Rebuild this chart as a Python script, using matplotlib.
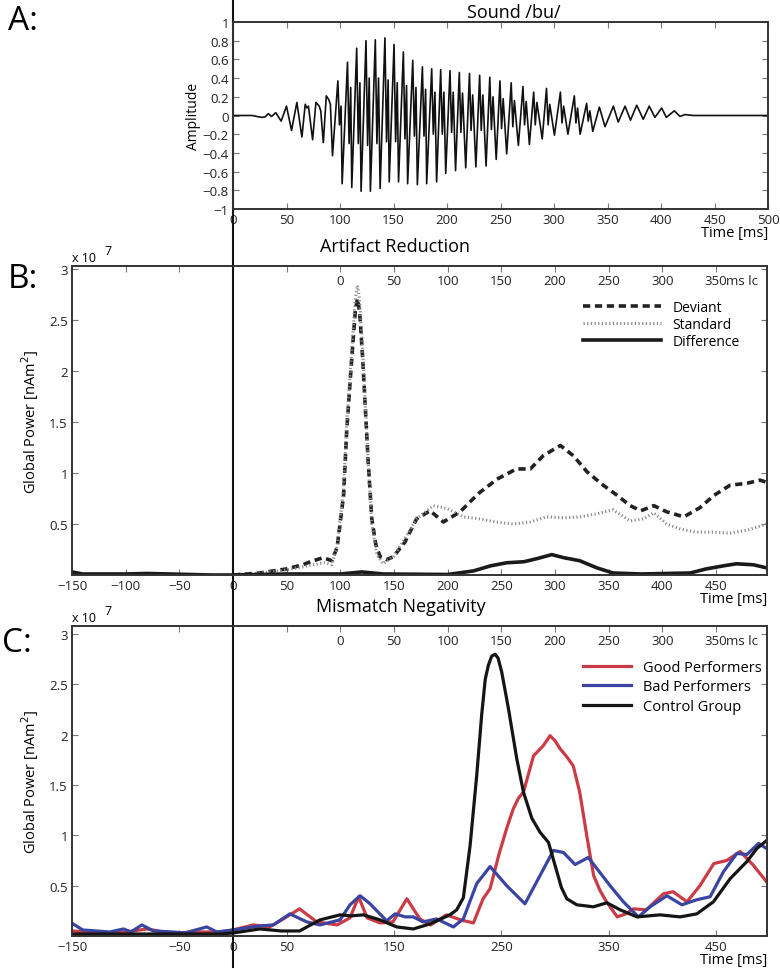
import matplotlib
matplotlib.use("Agg")
import matplotlib.pyplot as plt

plt.rcParams['font.family'] = ['Open Sans', 'DejaVu Sans']

# ---------------- Panel A: sound waveform /bu/ ----------------
early_t = [0, 18, 22, 27, 30, 33, 36, 40, 45, 50, 54.7, 59.7, 64.4, 67.5, 69, 70.5, 74.4,
           77.5, 80.6, 82, 84.4, 87.2, 89.5, 91]
early_a = [0, 0, -0.01, -0.02, -0.015, 0.02, -0.01, 0.03, -0.06, 0.10, -0.16, 0.14, -0.23,
           0.12, 0.08, 0.10, -0.26, 0.14, 0.10, 0.05, -0.29, 0.21, 0.17, 0.12]
trough_t = [93, 102, 111, 119.7, 128.4, 137.5, 146, 154.7, 163.2, 172.3, 181, 190.3, 198.8,
            208, 217.5, 227, 236.5, 246, 255.8, 266.7, 277, 289, 300.4, 313, 324.4]
trough_a = [-0.43, -0.73, -0.77, -0.81, -0.81, -0.78, -0.71, -0.71, -0.73, -0.74, -0.73, -0.71,
            -0.62, -0.59, -0.56, -0.55, -0.54, -0.47, -0.41, -0.32, -0.31, -0.25, -0.21, -0.20, -0.20]
peak_t = [98, 107, 115.6, 124.3, 133, 142, 150.5, 159.2, 168, 177, 185.7, 194.1, 202.8, 211.5,
          221, 230.5, 240, 249.5, 260, 271, 281, 293, 306, 319, 330.5]
peak_a = [0.37, 0.57, 0.72, 0.80, 0.81, 0.83, 0.76, 0.68, 0.59, 0.52, 0.50, 0.49, 0.48, 0.46,
          0.45, 0.43, 0.41, 0.37, 0.35, 0.31, 0.25, 0.29, 0.25, 0.21, 0.13]
knot_dip = [-0.10, -0.30, -0.30, -0.32, -0.30, -0.28, -0.28, -0.25, -0.22, -0.22, -0.20, -0.20,
            -0.18, -0.18, -0.16, -0.16, -0.15, -0.14, -0.12, -0.10, -0.10, -0.10, -0.08, -0.08, -0.06]
knot_bump = [0.10, 0.30, 0.35, 0.40, 0.40, 0.38, 0.35, 0.32, 0.30, 0.28, 0.25, 0.25, 0.25, 0.24,
             0.22, 0.22, 0.20, 0.18, 0.16, 0.15, 0.14, 0.12, 0.10, 0.08, 0.05]
knot_dip_dt = 1.5
knot_bump_dt = 3.0
tail_t = [336.2, 342.4, 347.7, 355.5, 360, 366.4, 371.5, 377.3, 383.4, 389, 394.3, 400.6, 405,
          412.4, 417.8, 422.4, 430, 500]
tail_a = [-0.17, 0.09, -0.12, 0.10, -0.07, 0.10, -0.05, 0.11, -0.04, 0.10, -0.02, 0.08, -0.02,
          0.05, -0.01, 0.01, 0.0, 0.0]

amp_ticks = [-1, -0.8, -0.6, -0.4, -0.2, 0, 0.2, 0.4, 0.6, 0.8, 1]
amp_labels = ['\u22121', '\u22120.8', '\u22120.6', '\u22120.4', '\u22120.2', '0', '0.2', '0.4', '0.6', '0.8', '1']
a_xticks = [0, 50, 100, 150, 200, 250, 300, 350, 400, 450, 500]

# ---------------- Panel B: artifact reduction (x 1e7) ----------------
dev_t = [0, 25, 50, 65, 72, 84, 92, 97, 103, 106, 110.6, 114, 116, 118, 121, 126, 129.3, 133,
         137, 143, 149.5, 160, 171, 183.6, 196, 211.6, 224, 230, 246, 264, 277, 289, 305, 317,
         330, 345, 358, 370, 380, 392, 404, 420, 435, 448, 463, 479, 491, 497]
dev_v = [0, 0.02, 0.06, 0.10, 0.13, 0.17, 0.14, 0.27, 0.78, 1.43, 2.12, 2.60, 2.71, 2.58, 2.09,
         1.10, 0.55, 0.30, 0.18, 0.15, 0.18, 0.32, 0.55, 0.63, 0.52, 0.62, 0.75, 0.81, 0.94,
         1.04, 1.04, 1.17, 1.27, 1.17, 1.01, 0.88, 0.78, 0.68, 0.63, 0.68, 0.62, 0.57, 0.66,
         0.78, 0.88, 0.90, 0.93, 0.91]
std_t = [0, 25, 50, 65, 75, 85, 92, 97, 103, 106, 110.6, 114, 116, 118, 121, 126, 129.3, 134,
         140, 149.5, 162, 171, 186.7, 200, 214.6, 230, 245, 261, 277, 292, 308, 323, 339, 354,
         370, 382, 392, 404, 417, 432, 448, 463, 479, 497]
std_v = [0, 0.02, 0.05, 0.08, 0.10, 0.12, 0.10, 0.28, 0.85, 1.50, 2.20, 2.72, 2.84, 2.70, 2.15,
         1.10, 0.50, 0.20, 0.11, 0.18, 0.39, 0.55, 0.68, 0.65, 0.57, 0.55, 0.52, 0.50, 0.52,
         0.57, 0.56, 0.57, 0.60, 0.64, 0.53, 0.55, 0.61, 0.50, 0.45, 0.42, 0.42, 0.41, 0.44, 0.50]
diff_t = [-150, -140, -120, -100, -80, -60, -40, -20, 0, 50, 100, 120, 140, 200, 224, 240, 255,
          271, 283, 297, 308, 323, 339, 354, 380, 426, 441, 457, 469, 485, 497]
diff_v = [0.03, 0.01, 0.01, 0.01, 0.015, 0.01, 0.005, 0.0, 0.0, 0.01, 0.01, 0.03, 0.01, 0.005,
          0.04, 0.09, 0.12, 0.13, 0.16, 0.20, 0.17, 0.14, 0.07, 0.02, 0.01, 0.02, 0.06, 0.09,
          0.11, 0.10, 0.07]

# ---------------- Panel C: mismatch negativity (x 1e7) ----------------
good_t = [-150, -120, -100, -80, -60, -30, -12, 0, 19, 34, 47, 62, 78, 97, 109, 117, 125, 137,
          149, 162, 174, 184, 199, 212, 224, 233, 239.5, 248, 255, 261, 266, 270.6, 280, 289,
          295.4, 300, 304.8, 311, 317, 323, 330, 336, 342, 348, 358, 366, 373, 385, 401, 410,
          423, 435, 448, 460, 472.5, 485, 497]
good_v = [0.05, 0.03, 0.04, 0.07, 0.03, 0.04, 0.04, 0.06, 0.11, 0.09, 0.17, 0.27, 0.14, 0.11,
          0.18, 0.39, 0.18, 0.13, 0.14, 0.37, 0.17, 0.11, 0.21, 0.16, 0.13, 0.37, 0.47, 0.82,
          1.07, 1.26, 1.37, 1.43, 1.79, 1.89, 1.99, 1.94, 1.86, 1.78, 1.69, 1.43, 0.97, 0.60,
          0.45, 0.34, 0.19, 0.22, 0.27, 0.26, 0.42, 0.44, 0.34, 0.50, 0.72, 0.75, 0.84, 0.70, 0.54]
bad_t = [-149, -140, -115, -102, -95, -85, -74, -56, -45, -24.5, -15, 0, 12, 25, 37.6, 53, 68.7,
         81, 99.7, 109, 118.4, 127.7, 143.2, 151, 160.3, 168, 177, 189.7, 205.3, 214.6, 227,
         239.5, 255, 272, 283, 298.5, 307.8, 318.7, 331, 339, 351.3, 363.7, 377.7, 388.6, 404.2,
         418.2, 432, 444.5, 457, 469.4, 478.8, 489.6, 497]
bad_v = [0.12, 0.06, 0.04, 0.07, 0.04, 0.11, 0.05, 0.04, 0.03, 0.09, 0.04, 0.06, 0.08, 0.10,
         0.11, 0.22, 0.14, 0.11, 0.16, 0.31, 0.40, 0.32, 0.15, 0.22, 0.19, 0.19, 0.14, 0.17, 0.09,
         0.17, 0.52, 0.69, 0.50, 0.32, 0.54, 0.85, 0.83, 0.71, 0.78, 0.67, 0.50, 0.34, 0.19, 0.29,
         0.40, 0.31, 0.36, 0.39, 0.64, 0.82, 0.81, 0.92, 0.87]
ctrl_t = [-150, -100, -50, -12, 0, 25, 45, 62, 81, 99.7, 110, 121.4, 137, 152.5, 168, 183.6, 202,
          208.4, 214.6, 220.9, 227.1, 231.7, 235, 237.9, 241, 244.2, 247, 250.4, 256.6, 264.4,
          270.6, 278.4, 286.1, 293.9, 301.7, 306, 311, 320.3, 335.8, 348.3, 360.7, 376.4, 397.9,
          416.6, 432.1, 447.6, 463.2, 478.8, 488.1, 497.4]
ctrl_v = [0.02, 0.02, 0.02, 0.02, 0.03, 0.07, 0.05, 0.05, 0.16, 0.21, 0.20, 0.21, 0.16, 0.09,
          0.07, 0.12, 0.21, 0.26, 0.38, 0.90, 1.60, 2.20, 2.55, 2.69, 2.78, 2.80, 2.76, 2.62,
          2.26, 1.76, 1.43, 1.17, 1.03, 0.93, 0.64, 0.48, 0.37, 0.31, 0.29, 0.33, 0.26, 0.19,
          0.21, 0.19, 0.22, 0.34, 0.57, 0.74, 0.87, 0.95]

power_ticks = [0.5, 1, 1.5, 2, 2.5, 3]
power_labels = ['0.5', '1', '1.5', '2', '2.5', '3']
b_xticks = [-150, -100, -50, 0, 50, 100, 150, 200, 250, 300, 350, 400, 450]
c_xticks = [-150, -50, 0, 50, 150, 250, 350, 450]
lc_ticks_b = [-200, -150, -50, 0, 50, 100, 150, 200, 250, 300, 350]
lc_labels_b = ['', '', '', '0', '50', '100', '150', '200', '250', '300', '350']
lc_ticks_c = [-150, -50, 0, 50, 100, 150, 200, 250, 300, 350]
lc_labels_c = ['', '', '0', '50', '100', '150', '200', '250', '300', '350']
lc_offset = 100

# ---------------- assemble waveform ----------------
wave_t = list(early_t)
wave_a = list(early_a)
for k in range(len(trough_t)):
    wave_t += [trough_t[k], peak_t[k], peak_t[k] + knot_dip_dt, peak_t[k] + knot_bump_dt]
    wave_a += [trough_a[k], peak_a[k], knot_dip[k], knot_bump[k]]
wave_t += tail_t
wave_a += tail_a

W, H = 780, 970
fig = plt.figure(figsize=(W / 100, H / 100), dpi=100)

SPC = '#333333'
TICK_FS = 9.5


def style(ax):
    for s in ax.spines.values():
        s.set_color(SPC)
        s.set_linewidth(1.4)
    ax.tick_params(direction='in', length=4, width=0.8, color='#777777',
                   top=True, right=True, labelsize=TICK_FS, labelcolor='#222222', pad=3)


def fbox(l, t, r, b):
    return [l / W, 1 - b / H, (r - l) / W, (b - t) / H]


# Panel A
axA = fig.add_axes(fbox(233, 23, 768, 210))
axA.plot(wave_t, wave_a, color='#111111', lw=1.2)
axA.set_xlim(0, 500)
axA.set_ylim(-1, 1)
axA.set_yticks(amp_ticks)
axA.set_yticklabels(amp_labels)
axA.set_xticks(a_xticks)
style(axA)
axA.set_ylabel('Amplitude', fontsize=10, labelpad=1)
axA.set_xlabel('Time [ms]', fontsize=10.5, loc='right', labelpad=-1)
axA.text(0.525, 1.005, 'Sound /bu/', transform=axA.transAxes, ha='center', va='bottom', fontsize=13)
axA.axvline(0, ymin=-0.31, ymax=1.11, color='#111111', lw=1.5, clip_on=False)


def power_axes(box, ymax, xticks, lc_ticks, lc_labels, title, title_x):
    ax = fig.add_axes(fbox(*box))
    ax.set_xlim(-150, 497.5)
    ax.set_ylim(0, ymax)
    ax.set_yticks(power_ticks)
    ax.set_yticklabels(power_labels)
    ax.set_xticks(xticks)
    style(ax)
    ax.tick_params(axis='x', top=False)
    sec = ax.secondary_xaxis('top', functions=(lambda t: t - lc_offset, lambda s: s + lc_offset))
    sec.set_xticks(lc_ticks)
    sec.set_xticklabels(lc_labels)
    sec.tick_params(direction='in', length=4, width=0.8, color='#777777', labelsize=TICK_FS,
                    labelcolor='#222222', pad=-15)
    sec.spines['top'].set_visible(False)
    ax.annotate('ms lc', xy=(450, 1), xycoords=('data', 'axes fraction'), xytext=(7.5, -15.0),
                textcoords='offset points', ha='left', va='bottom', fontsize=TICK_FS, color='#222222')
    ax.set_ylabel('Global Power [nAm$^2$]', fontsize=10.5, labelpad=6)
    ax.set_xlabel('Time [ms]', fontsize=10.5, loc='right', labelpad=-1)
    ax.text(title_x, 1.035, title, transform=ax.transAxes, ha='center', va='bottom', fontsize=13)
    ax.text(0.0, 1.008, 'x 10', transform=ax.transAxes, ha='left', va='bottom', fontsize=9)
    ax.text(0.046, 1.03, '7', transform=ax.transAxes, ha='left', va='bottom', fontsize=9)
    return ax


LEG = dict(loc='upper left', frameon=False, handletextpad=0.85,
           borderpad=0, borderaxespad=0)

axB = power_axes((72, 267, 767, 576), 3.03, b_xticks, lc_ticks_b, lc_labels_b,
                 'Artifact Reduction', 0.465)
axB.plot(dev_t, dev_v, color='#222222', lw=2.6, dashes=(2.0, 1.3), label='Deviant')
axB.plot(std_t, std_v, color='#8c8c8c', lw=2.2, dashes=(0.4, 0.8), label='Standard')
axB.plot(diff_t, diff_v, color='#1a1a1a', lw=2.6, label='Difference')
axB.axvline(0, ymin=-0.17, ymax=1.0, color='#111111', lw=1.5, clip_on=False)
axB.legend(bbox_to_anchor=(0.735, 0.89), fontsize=10, labelspacing=0.15, handlelength=5.6, **LEG)

axC = power_axes((72, 627, 767, 937), 3.08, c_xticks, lc_ticks_c, lc_labels_c,
                 'Mismatch Negativity', 0.473)
axC.plot(good_t, good_v, color='#cc3b45', lw=2.3, label='Good Performers')
axC.plot(bad_t, bad_v, color='#3a45a2', lw=2.3, label='Bad Performers')
axC.plot(ctrl_t, ctrl_v, color='#151515', lw=2.3, label='Control Group')
axC.axvline(0, ymin=-0.1, ymax=1.0, color='#111111', lw=1.5, clip_on=False)
axC.legend(bbox_to_anchor=(0.735, 0.89), fontsize=10.5, labelspacing=0.3, handlelength=3.3, **LEG)

fig.text(8 / W, 1 - 22 / H, 'A:', fontsize=24, va='center', ha='left')
fig.text(8 / W, 1 - 280 / H, 'B:', fontsize=24, va='center', ha='left')
fig.text(2 / W, 1 - 644 / H, 'C:', fontsize=24, va='center', ha='left')

fig.savefig('out.png', dpi=100)
